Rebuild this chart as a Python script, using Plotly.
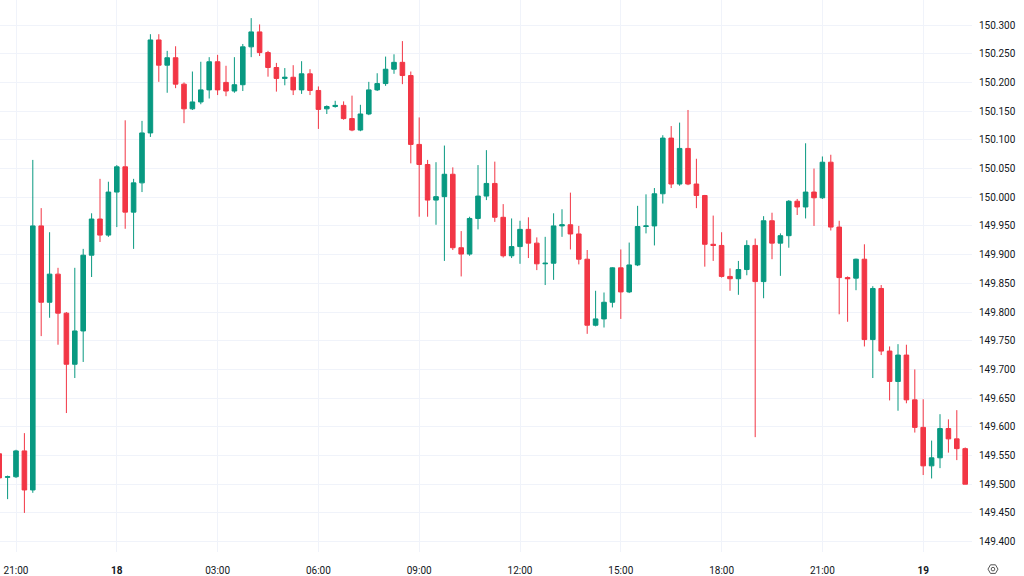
import pandas as pd
import plotly.graph_objects as go

# 15-minute candles, first one opens 2023-10-17 20:30
start_time = "2023-10-17 20:30"

opens = [149.553, 149.512, 149.513, 149.558, 149.490, 149.950, 149.817, 149.866, 149.798, 149.709,
         149.767, 149.899, 149.962, 149.934, 150.009, 150.053, 149.974, 150.025, 150.112, 150.274,
         150.230, 150.243, 150.197, 150.154, 150.166, 150.187, 150.236, 150.200, 150.185, 150.196,
         150.262, 150.288, 150.252, 150.226, 150.207, 150.209, 150.187, 150.215, 150.186, 150.154,
         150.158, 150.160, 150.137, 150.117, 150.145, 150.187, 150.198, 150.223, 150.235, 150.212,
         150.092, 150.057, 149.995, 150.001, 150.040, 149.912, 149.901, 149.963, 150.002, 150.024,
         149.965, 149.898, 149.914, 149.944, 149.920, 149.884, 149.885, 149.950, 149.952, 149.936,
         149.892, 149.777, 149.788, 149.817, 149.877, 149.835, 149.882, 149.949, 149.950, 150.006,
         150.103, 150.023, 150.085, 150.023, 150.003, 149.918, 149.916, 149.862, 149.858, 149.874,
         149.916, 149.853, 149.959, 149.920, 149.933, 149.993, 149.983, 150.009, 149.999, 150.061,
         149.948, 149.860, 149.859, 149.892, 149.752, 149.841, 149.732, 149.679, 149.725, 149.647,
         149.599, 149.532, 149.546, 149.597, 149.579, 149.562]

highs = [149.565, 149.515, 149.560, 149.589, 150.065, 149.981, 149.939, 149.877, 149.800, 149.877,
         149.910, 149.972, 150.032, 150.027, 150.056, 150.134, 150.032, 150.133, 150.284, 150.284,
         150.255, 150.263, 150.200, 150.219, 150.236, 150.244, 150.248, 150.229, 150.244, 150.267,
         150.312, 150.301, 150.255, 150.234, 150.225, 150.230, 150.237, 150.223, 150.193, 150.160,
         150.168, 150.167, 150.177, 150.161, 150.201, 150.216, 150.245, 150.249, 150.272, 150.219,
         150.139, 150.065, 150.061, 150.090, 150.052, 149.941, 149.966, 150.056, 150.082, 150.062,
         149.988, 149.963, 149.959, 149.965, 149.930, 149.931, 149.972, 149.979, 150.008, 149.950,
         149.908, 149.837, 149.834, 149.878, 149.909, 149.921, 149.985, 150.005, 150.016, 150.108,
         150.124, 150.130, 150.152, 150.067, 150.004, 149.968, 149.939, 149.876, 149.889, 149.925,
         149.928, 149.967, 149.973, 149.937, 149.995, 149.997, 150.094, 150.050, 150.071, 150.074,
         149.959, 149.862, 149.893, 149.918, 149.845, 149.847, 149.740, 149.744, 149.743, 149.700,
         149.648, 149.576, 149.622, 149.613, 149.629, 149.564]

lows = [149.505, 149.474, 149.511, 149.450, 149.485, 149.758, 149.790, 149.743, 149.624, 149.685,
        149.713, 149.861, 149.922, 149.931, 149.948, 149.945, 149.910, 150.009, 150.105, 150.201,
        150.182, 150.190, 150.129, 150.152, 150.162, 150.172, 150.178, 150.176, 150.182, 150.185,
        150.244, 150.246, 150.210, 150.184, 150.195, 150.178, 150.180, 150.178, 150.119, 150.145,
        150.156, 150.135, 150.115, 150.115, 150.143, 150.185, 150.194, 150.215, 150.197, 150.059,
        149.966, 149.966, 149.952, 149.889, 149.908, 149.862, 149.898, 149.944, 149.995, 149.957,
        149.895, 149.894, 149.884, 149.894, 149.873, 149.847, 149.856, 149.931, 149.909, 149.883,
        149.762, 149.775, 149.773, 149.808, 149.788, 149.833, 149.880, 149.937, 149.916, 149.989,
        150.016, 150.020, 150.021, 149.981, 149.879, 149.889, 149.860, 149.837, 149.830, 149.864,
        149.582, 149.824, 149.892, 149.863, 149.912, 149.969, 149.963, 149.950, 149.997, 149.942,
        149.796, 149.783, 149.838, 149.740, 149.685, 149.725, 149.646, 149.628, 149.641, 149.590,
        149.516, 149.510, 149.528, 149.555, 149.542, 149.500]

closes = [149.511, 149.513, 149.558, 149.490, 149.950, 149.817, 149.866, 149.798, 149.709, 149.767,
          149.899, 149.962, 149.934, 150.009, 150.053, 149.974, 150.025, 150.112, 150.274, 150.230,
          150.243, 150.197, 150.154, 150.166, 150.187, 150.236, 150.187, 150.185, 150.196, 150.262,
          150.288, 150.252, 150.226, 150.207, 150.209, 150.187, 150.215, 150.186, 150.153, 150.158,
          150.160, 150.137, 150.117, 150.145, 150.187, 150.198, 150.223, 150.235, 150.212, 150.092,
          150.057, 149.995, 150.001, 150.040, 149.912, 149.901, 149.963, 150.002, 150.024, 149.965,
          149.898, 149.914, 149.944, 149.920, 149.884, 149.885, 149.950, 149.952, 149.936, 149.892,
          149.777, 149.788, 149.817, 149.877, 149.835, 149.882, 149.949, 149.950, 150.006, 150.103,
          150.023, 150.085, 150.023, 150.003, 149.918, 149.916, 149.862, 149.858, 149.874, 149.916,
          149.853, 149.959, 149.920, 149.933, 149.993, 149.983, 150.009, 149.999, 150.061, 149.948,
          149.860, 149.858, 149.892, 149.752, 149.841, 149.732, 149.679, 149.725, 149.647, 149.599,
          149.532, 149.546, 149.597, 149.579, 149.562, 149.500]

tick_times = ["2023-10-17 21:00", "2023-10-18 00:00", "2023-10-18 03:00", "2023-10-18 06:00",
              "2023-10-18 09:00", "2023-10-18 12:00", "2023-10-18 15:00", "2023-10-18 18:00",
              "2023-10-18 21:00", "2023-10-19 00:00"]
tick_labels = ["21:00", "<b>18</b>", "03:00", "06:00", "09:00", "12:00", "15:00", "18:00",
               "21:00", "<b>19</b>"]

times = pd.date_range(start_time, periods=len(opens), freq="15min")

UP = "#089981"
DOWN = "#f23645"
GRID = "#f0f3fa"
TEXT = "#131722"

fig = go.Figure(go.Candlestick(
    x=times, open=opens, high=highs, low=lows, close=closes,
    increasing=dict(line=dict(color=UP, width=1), fillcolor=UP),
    decreasing=dict(line=dict(color=DOWN, width=1), fillcolor=DOWN),
    whiskerwidth=0,
))

fig.update_layout(
    width=1024, height=576,
    margin=dict(l=0, r=52, t=0, b=24),
    paper_bgcolor="white", plot_bgcolor="white",
    showlegend=False,
    boxgap=0.22,
    font=dict(family="Roboto, Arial, sans-serif", size=10, color=TEXT),
)
fig.update_xaxes(
    rangeslider_visible=False,
    range=["2023-10-17 20:31:26", "2023-10-19 01:27:08"],
    tickvals=tick_times, ticktext=tick_labels,
    showgrid=True, gridcolor=GRID, gridwidth=1,
    zeroline=False, showline=False, ticks="",
    ticklabelstandoff=11,
    tickfont=dict(size=10, color=TEXT),
)
fig.update_yaxes(
    side="right",
    range=[149.3819, 150.3436],
    dtick=0.05, tick0=149.4, tickformat=".3f",
    showgrid=True, gridcolor=GRID, gridwidth=1,
    zeroline=False, showline=False, ticks="",
    ticklabelstandoff=6,
    tickfont=dict(size=10, color=TEXT),
)

# settings icon in the bottom-right corner
fig.add_shape(type="path", xref="paper", yref="paper",
              xsizemode="pixel", ysizemode="pixel", xanchor=1.0216, yanchor=-0.031,
              path="M -5 0 L -2.5 4.3 L 2.5 4.3 L 5 0 L 2.5 -4.3 L -2.5 -4.3 Z",
              line=dict(color="#555555", width=1))
fig.add_shape(type="circle", xref="paper", yref="paper",
              xsizemode="pixel", ysizemode="pixel", xanchor=1.0216, yanchor=-0.031,
              x0=-1.8, x1=1.8, y0=-1.8, y1=1.8,
              line=dict(color="#555555", width=1))

fig.write_html("out.html")
